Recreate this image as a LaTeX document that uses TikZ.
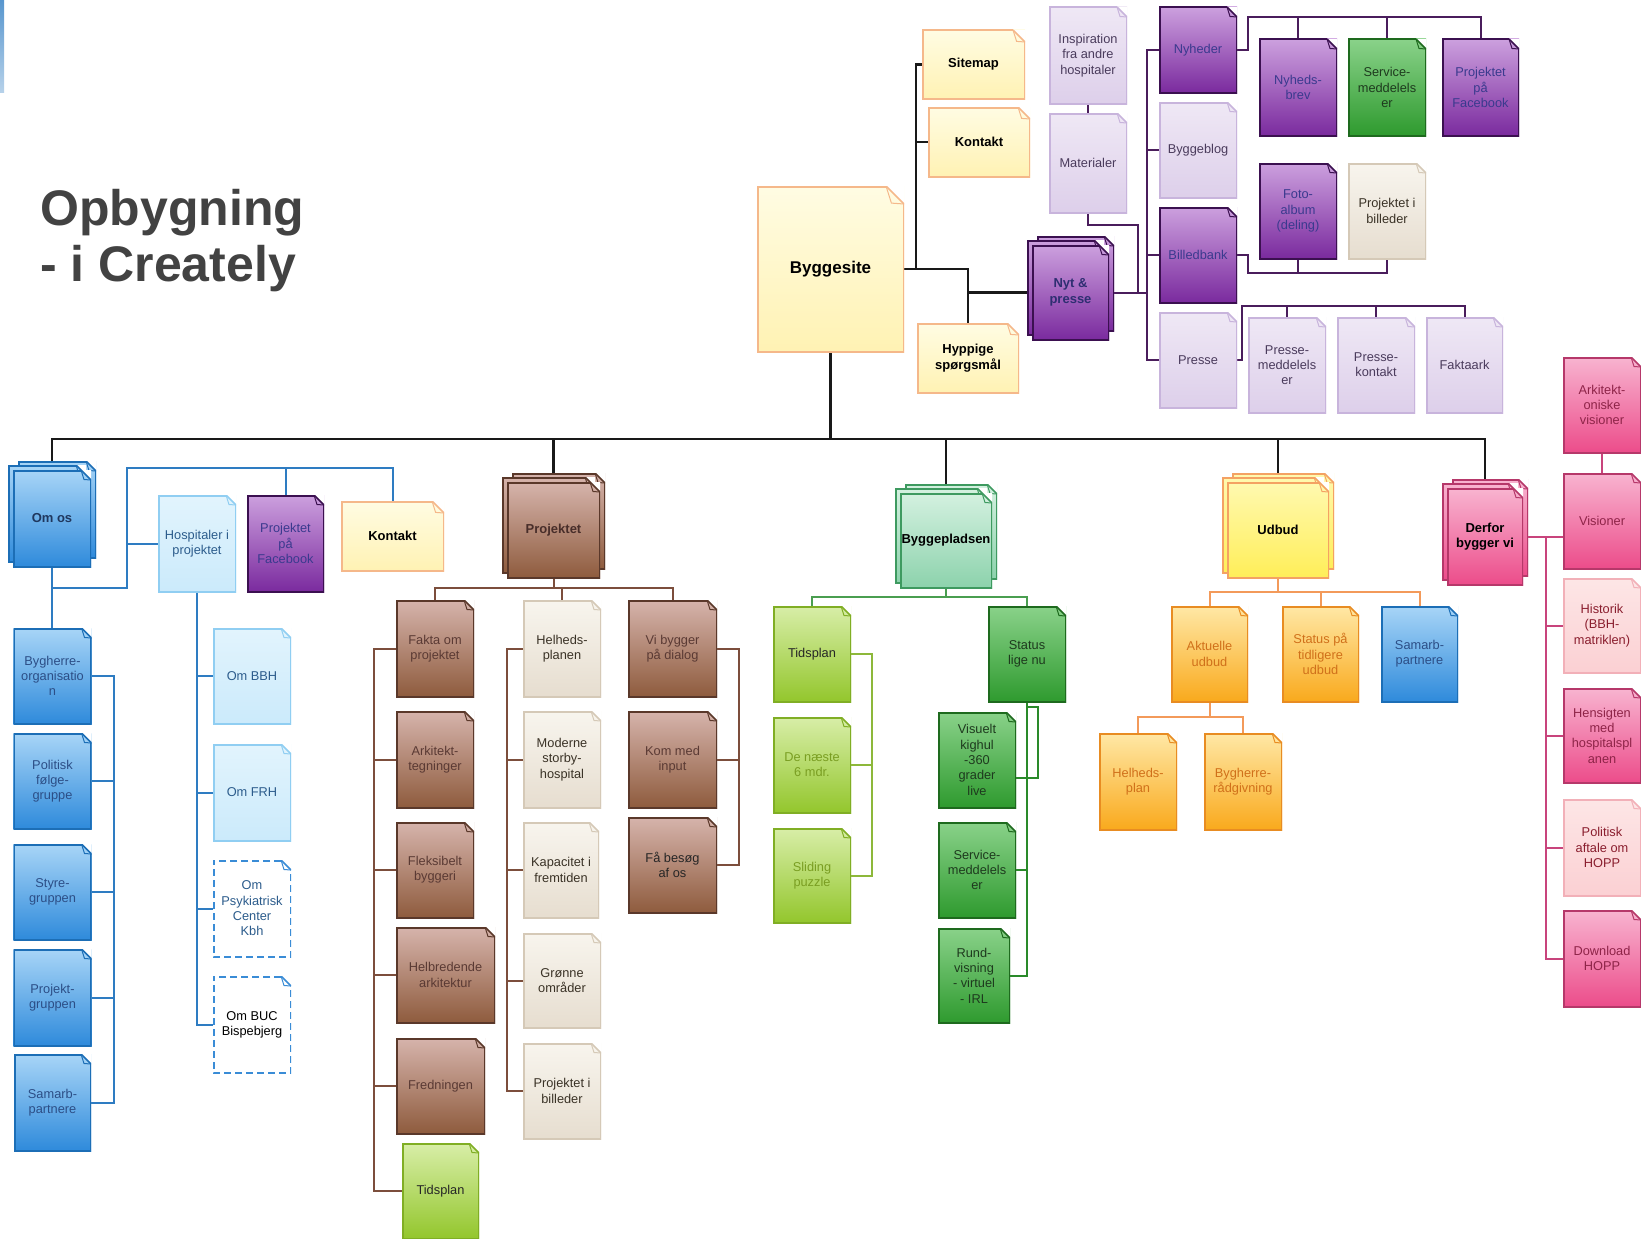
\documentclass[tikz,border=0pt]{standalone}
\usepackage{fontspec}
\setmainfont{Liberation Sans}
\usetikzlibrary{backgrounds}

\definecolor{ylwtop}{HTML}{FFFCE3}
\definecolor{ylwbot}{HTML}{FFF2B3}
\definecolor{ylwedge}{HTML}{F5B88A}
\definecolor{udbtop}{HTML}{FFF9B0}
\definecolor{udbbot}{HTML}{FFEE58}
\definecolor{udbedge}{HTML}{F4A263}
\definecolor{liltop}{HTML}{EFE8F5}
\definecolor{lilbot}{HTML}{DDCFEA}
\definecolor{liledge}{HTML}{C8B4DC}
\definecolor{liltext}{HTML}{4A3B5C}
\definecolor{purtop}{HTML}{CCA0DE}
\definecolor{purbot}{HTML}{7A2A9E}
\definecolor{puredge}{HTML}{3B1050}
\definecolor{purtext}{HTML}{3A3A8E}
\definecolor{grntop}{HTML}{8AD28A}
\definecolor{grnbot}{HTML}{2E9A2E}
\definecolor{grnedge}{HTML}{1E6A1E}
\definecolor{grntext}{HTML}{1E3A1E}
\definecolor{limtop}{HTML}{D8EEA8}
\definecolor{limbot}{HTML}{93C62C}
\definecolor{limedge}{HTML}{80AE24}
\definecolor{limtext}{HTML}{7A9E22}
\definecolor{mnttop}{HTML}{D4F1E0}
\definecolor{mntbot}{HTML}{8CD2AC}
\definecolor{mntedge}{HTML}{3E9A60}
\definecolor{brntop}{HTML}{D6B4AC}
\definecolor{brnbot}{HTML}{8E5B3D}
\definecolor{brnedge}{HTML}{5A382A}
\definecolor{brntext}{HTML}{5A3A34}
\definecolor{begtop}{HTML}{F8F5EE}
\definecolor{begbot}{HTML}{E6DDCF}
\definecolor{begedge}{HTML}{D5C9B7}
\definecolor{begtext}{HTML}{3A3226}
\definecolor{blutop}{HTML}{A8D5F7}
\definecolor{blubot}{HTML}{2E8ADB}
\definecolor{bluedge}{HTML}{1C6EB6}
\definecolor{blutext}{HTML}{2C4E86}
\definecolor{lbltop}{HTML}{E2F4FD}
\definecolor{lblbot}{HTML}{CBEAFB}
\definecolor{lbledge}{HTML}{90CEF2}
\definecolor{lbltext}{HTML}{2C5C8C}
\definecolor{dshedge}{HTML}{3A8CD6}
\definecolor{pnktop}{HTML}{F8B4D0}
\definecolor{pnkbot}{HTML}{EC4C8A}
\definecolor{pnkedge}{HTML}{B6386A}
\definecolor{pnktext}{HTML}{8E2448}
\definecolor{lpktop}{HTML}{FDE6E6}
\definecolor{lpkbot}{HTML}{FBD0D3}
\definecolor{lpkedge}{HTML}{F2B0B8}
\definecolor{lpktext}{HTML}{8A1E2E}
\definecolor{orgtop}{HTML}{FFE8A6}
\definecolor{orgbot}{HTML}{F9A91C}
\definecolor{orgedge}{HTML}{E88C22}
\definecolor{orgtext}{HTML}{D0701A}
\definecolor{linepur}{HTML}{4A1D5C}
\definecolor{lineblu}{HTML}{2E7CC2}
\definecolor{linebrn}{HTML}{7C4E3C}
\definecolor{linegrn}{HTML}{4A9E50}
\definecolor{linelim}{HTML}{8DB83A}
\definecolor{linedgr}{HTML}{2A8A2A}
\definecolor{lineorg}{HTML}{F39A5A}
\definecolor{linepnk}{HTML}{C8447C}
\definecolor{titlegray}{HTML}{424242}

\begin{document}
\begin{tikzpicture}[
    x=1pt, y=-1pt,
    font=\fontsize{12.8}{15.3}\selectfont
]
\tikzset{
    dogear/.store in=\dogear, dogear=10pt,
    edgecol/.store in=\edgecol, edgecol=black,
    docedge/.style={},
    doc/.style = {rectangle, inner sep=1pt, align=center,
        minimum width=78pt, minimum height=96pt,
        path picture={
            \fill[white] ([xshift=-\dogear]path picture bounding box.north east)
                -- (path picture bounding box.north east)
                -- ([yshift=-\dogear]path picture bounding box.north east) -- cycle;
            \draw[draw=\edgecol, line width=3pt, docedge]
                ([xshift=-\dogear]path picture bounding box.north east)
                -- (path picture bounding box.north west)
                -- (path picture bounding box.south west)
                -- (path picture bounding box.south east)
                -- ([yshift=-\dogear]path picture bounding box.north east);
            \draw[draw=\edgecol, line width=1.5pt]
                ([xshift=-\dogear]path picture bounding box.north east)
                -- ([yshift=-\dogear]path picture bounding box.north east);
            \draw[draw=\edgecol, line width=1pt]
                ([xshift=-\dogear]path picture bounding box.north east)
                -- ([xshift=-0.7*\dogear, yshift=-0.95*\dogear]path picture bounding box.north east)
                -- ([yshift=-\dogear]path picture bounding box.north east);
        }},
    boldtext/.style = {font=\fontsize{13}{15.5}\selectfont\bfseries},
    yellowdoc/.style = {doc, top color=ylwtop, bottom color=ylwbot, edgecol=ylwedge, dogear=12pt, text=black, boldtext},
    udbuddoc/.style = {doc, top color=udbtop, bottom color=udbbot, edgecol=udbedge, text=black, boldtext},
    lilacdoc/.style = {doc, top color=liltop, bottom color=lilbot, edgecol=liledge, text=liltext},
    purpledoc/.style = {doc, top color=purtop, bottom color=purbot, edgecol=puredge, text=purtext},
    greendoc/.style = {doc, top color=grntop, bottom color=grnbot, edgecol=grnedge, text=grntext},
    limedoc/.style = {doc, top color=limtop, bottom color=limbot, edgecol=limedge, text=limtext},
    mintdoc/.style = {doc, top color=mnttop, bottom color=mntbot, edgecol=mntedge, text=black, boldtext},
    browndoc/.style = {doc, top color=brntop, bottom color=brnbot, edgecol=brnedge, text=brntext},
    beigedoc/.style = {doc, top color=begtop, bottom color=begbot, edgecol=begedge, text=begtext},
    bluedoc/.style = {doc, top color=blutop, bottom color=blubot, edgecol=bluedge, text=blutext},
    lightbluedoc/.style = {doc, top color=lbltop, bottom color=lblbot, edgecol=lbledge, text=lbltext},
    dashdoc/.style = {doc, fill=white, edgecol=dshedge, text=lbltext, docedge/.style={dash pattern=on 7pt off 4pt}},
    pinkdoc/.style = {doc, top color=pnktop, bottom color=pnkbot, edgecol=pnkedge, text=pnktext},
    lightpinkdoc/.style = {doc, top color=lpktop, bottom color=lpkbot, edgecol=lpkedge, text=lpktext},
    orangedoc/.style = {doc, top color=orgtop, bottom color=orgbot, edgecol=orgedge, text=orgtext},
    titletext/.style = {inner sep=0pt, anchor=base west, text=titlegray, font=\fontsize{50}{56}\selectfont\bfseries},
    mainline/.style = {line width=2.5pt, draw=black!90},
    purpleline/.style = {line width=2pt, draw=linepur},
    blueline/.style = {line width=2pt, draw=lineblu},
    brownline/.style = {line width=2pt, draw=linebrn},
    greenline/.style = {line width=2pt, draw=linegrn},
    limeline/.style = {line width=2pt, draw=linelim},
    darkgreenline/.style = {line width=2pt, draw=linedgr},
    orangeline/.style = {line width=2pt, draw=lineorg},
    pinkline/.style = {line width=2pt, draw=linepnk}
}
\useasboundingbox (0,0) rectangle (1641,1239);
\shade[top color=lineblu!80, bottom color=lineblu!35] (0,0) rectangle (4,92);
\node[titletext] (title1) at (40,225) {Opbygning};
\node[titletext] (title2) at (40,281) {- i Creately};

% top: Byggesite
\node[yellowdoc, minimum width=147pt, minimum height=166pt, dogear=18pt,
    font=\fontsize{17}{20}\selectfont\bfseries] (byggesite) at (830.5,269) {Byggesite};
\node[yellowdoc, minimum width=103pt, minimum height=69pt] (sitemap) at (973.5,64.5) {Sitemap};
\node[yellowdoc, minimum width=102pt, minimum height=70pt] (kontakt) at (979,142) {Kontakt};
\node[yellowdoc, minimum width=102pt, minimum height=70pt] (hyppige) at (968,358) {Hyppige\\spørgsmål};

% Nyt & presse
\node[lilacdoc, minimum height=97pt] (inspiration) at (1088,55.5) {Inspiration\\fra andre\\hospitaler};
\node[lilacdoc, minimum height=100pt] (materialer) at (1088,163) {Materialer};
\node[purpledoc, minimum width=77pt, minimum height=95pt] (nytpresse-b2) at (1075.5,283.5) {};
\node[purpledoc, minimum width=77pt, minimum height=95pt] (nytpresse-b1) at (1065.5,287.5) {};
\node[purpledoc, minimum width=77pt, minimum height=95pt, boldtext, text=purtext!80!black] (nytpresse) at (1070.5,292.5) {Nyt \&\\presse};
\node[purpledoc, minimum height=86pt] (nyheder) at (1198,50) {Nyheder};
\node[lilacdoc] (byggeblog) at (1198,150) {Byggeblog};
\node[purpledoc] (billedbank) at (1198,255) {Billedbank};
\node[lilacdoc] (presse) at (1198,360) {Presse};
\node[purpledoc, minimum height=97pt] (nyhedsbrev) at (1298,87.5) {Nyheds-\\brev};
\node[greendoc, minimum height=97pt] (servicenyt) at (1387,87.5) {Service-\\meddelels\\er};
\node[purpledoc, minimum width=77pt, minimum height=97pt] (facebook) at (1480.5,87.5) {Projektet\\på\\Facebook};
\node[purpledoc] (fotoalbum) at (1298,211) {Foto-\\album\\(deling)};
\node[beigedoc] (billeder) at (1387,211) {Projektet i\\billeder};
\node[lilacdoc] (pressemeddel) at (1287,365) {Presse-\\meddelels\\er};
\node[lilacdoc] (pressekontakt) at (1376,365) {Presse-\\kontakt};
\node[lilacdoc, minimum width=77pt] (faktaark) at (1464.5,365) {Faktaark};

% Om os
\node[bluedoc, minimum height=97pt] (omos-b2) at (57,509.5) {};
\node[bluedoc, minimum height=97pt] (omos-b1) at (47,513.5) {};
\node[bluedoc, minimum height=97pt, boldtext, text=blutext!70!black] (omos) at (52,518.5) {Om os};
\node[lightbluedoc, minimum height=97pt] (hospitaler) at (197,543.5) {Hospitaler i\\projektet};
\node[purpledoc, minimum width=77pt, minimum height=97pt] (facebookom) at (285.5,543.5) {Projektet\\på\\Facebook};
\node[yellowdoc, minimum width=103pt, minimum height=70pt] (kontaktom) at (392.5,536) {Kontakt};
\node[bluedoc] (bygherre) at (52.5,676) {Bygherre-\\organisatio\\n};
\node[bluedoc] (politisk) at (52.5,781) {Politisk\\følge-\\gruppe};
\node[bluedoc] (styre) at (52.5,892) {Styre-\\gruppen};
\node[bluedoc, minimum height=97pt] (projektgr) at (52.5,997.5) {Projekt-\\gruppen};
\node[bluedoc, minimum width=77pt, minimum height=97pt] (samarb) at (52.5,1102.5) {Samarb-\\partnere};
\node[lightbluedoc] (ombbh) at (252,676) {Om BBH};
\node[lightbluedoc, minimum height=97pt] (omfrh) at (252,792.5) {Om FRH};
\node[dashdoc, minimum height=97pt] (ompsyk) at (252,908.5) {Om\\Psykiatrisk\\Center\\Kbh};
\node[dashdoc, minimum height=97pt, text=black] (ombuc) at (252,1024.5) {Om BUC\\Bispebjerg};

% Projektet
\node[browndoc, minimum width=93pt] (projektet-b2) at (558.5,521) {};
\node[browndoc, minimum width=93pt] (projektet-b1) at (548.5,525) {};
\node[browndoc, minimum width=93pt, boldtext, text=brntext!80!black] (projektet) at (553.5,530) {Projektet};
\node[browndoc, minimum height=97pt] (fakta) at (435,648.5) {Fakta om\\projektet};
\node[browndoc, minimum height=97pt] (arkitekt) at (435,759.5) {Arkitekt-\\tegninger};
\node[browndoc] (fleksibel) at (435,870) {Fleksibelt\\byggeri};
\node[browndoc, minimum width=99pt] (helbred) at (445.5,975) {Helbredende\\arkitektur};
\node[browndoc, minimum width=89pt] (fredning) at (440.5,1086) {Fredningen};
\node[limedoc, minimum width=77pt, text=black!85] (tidsplanpj) at (440.5,1191) {Tidsplan};
\node[beigedoc, minimum height=97pt] (helheds) at (562,648.5) {Helheds-\\planen};
\node[beigedoc, minimum height=97pt] (moderne) at (562,759.5) {Moderne\\storby-\\hospital};
\node[beigedoc, minimum width=76pt] (kapacitet) at (561,870) {Kapacitet i\\fremtiden};
\node[beigedoc, minimum height=95pt] (gronne) at (562,980.5) {Grønne\\områder};
\node[beigedoc] (billedpj) at (562,1091) {Projektet i\\billeder};
\node[browndoc, minimum width=89pt, minimum height=97pt] (vibygger) at (672.5,648.5) {Vi bygger\\på dialog};
\node[browndoc, minimum width=89pt, minimum height=97pt] (kommed) at (672.5,759.5) {Kom med\\input};
\node[browndoc, minimum width=89pt, text=black!85] (besog) at (672.5,865) {Få besøg\\af os};

% Byggepladsen
\node[mintdoc, minimum width=92pt, minimum height=95pt] (byggeplads-b2) at (951,531.5) {};
\node[mintdoc, minimum width=92pt, minimum height=95pt] (byggeplads-b1) at (941,535.5) {};
\node[mintdoc, minimum width=92pt, minimum height=95pt] (byggeplads) at (946,540.5) {Byggepladsen};
\node[limedoc, text=black!85] (tidsplan) at (812,654) {Tidsplan};
\node[limedoc] (naeste) at (812,765) {De næste\\6 mdr.};
\node[limedoc, minimum height=95pt] (sliding) at (812,875.5) {Sliding\\puzzle};
\node[greendoc] (status) at (1027,654) {Status\\lige nu};
\node[greendoc] (visuelt) at (977,760) {Visuelt\\kighul\\-360\\grader\\live};
\node[greendoc] (service) at (977,870) {Service-\\meddelels\\er};
\node[greendoc, minimum width=72pt, minimum height=95pt] (rundvisning) at (974,975.5) {Rund-\\visning\\- virtuel\\- IRL};

% Udbud
\node[udbuddoc, minimum width=102pt] (udbud-b2) at (1283,521) {};
\node[udbuddoc, minimum width=102pt] (udbud-b1) at (1273,525) {};
\node[udbuddoc, minimum width=102pt] (udbud) at (1278,530) {Udbud};
\node[orangedoc, minimum width=77pt] (aktuelle) at (1209.5,654) {Aktuelle\\udbud};
\node[orangedoc, minimum width=77pt] (statusudb) at (1320.5,654) {Status på\\tidligere\\udbud};
\node[bluedoc, minimum width=77pt] (samarbudb) at (1419.5,654) {Samarb-\\partnere};
\node[orangedoc, minimum height=97pt] (helhedsplan) at (1138,781.5) {Helheds-\\plan};
\node[orangedoc, minimum height=97pt] (bygherreraad) at (1243,781.5) {Bygherre-\\rådgivning};

% Derfor bygger vi
\node[pinkdoc, minimum width=76pt, minimum height=97pt] (derfor-b2) at (1490,527.5) {};
\node[pinkdoc, minimum width=76pt, minimum height=97pt] (derfor-b1) at (1480,531.5) {};
\node[pinkdoc, minimum width=76pt, minimum height=97pt, boldtext, text=black] (derfor) at (1485,536.5) {Derfor\\bygger vi};
\node[pinkdoc] (arkvisioner) at (1602,405) {Arkitekt-\\oniske\\visioner};
\node[pinkdoc] (visioner) at (1602,521) {Visioner};
\node[lightpinkdoc, minimum height=95pt] (historik) at (1602,625.5) {Historik\\(BBH-\\matriklen)};
\node[pinkdoc, minimum height=95pt] (hensigten) at (1602,735.5) {Hensigten\\med\\hospitalspl\\anen};
\node[lightpinkdoc, minimum height=97pt] (politiskaft) at (1602,847.5) {Politisk\\aftale om\\HOPP};
\node[pinkdoc, minimum height=97pt] (download) at (1602,958.5) {Download\\HOPP};

\begin{pgfonlayer}{background}
% main tree
\coordinate (hub) at (830.5,439);
\draw[mainline] (byggesite.south) -- (hub);
\draw[mainline] (omos.north) |- (hub) -| (derfor.north);
\draw[mainline] (projektet.north) -- (projektet.north |- hub);
\draw[mainline] (byggeplads.north) -- (byggeplads.north |- hub);
\draw[mainline] (udbud.north) -- (udbud.north |- hub);
\coordinate (sitebus) at (916,269);
\draw[mainline] (byggesite.east) -- (sitebus) |- (sitemap.west);
\draw[mainline] (sitebus) |- (kontakt.west);
\draw[mainline] (sitebus) -| (hyppige.north);
\draw[mainline] (hyppige.north |- nytpresse.west) -- (nytpresse.west);

% Nyt & presse
\coordinate (newsbus) at (1147,292.5);
\draw[purpleline] (nytpresse.east) -- (newsbus) |- (nyheder.west);
\draw[purpleline] (newsbus) |- (presse.west);
\draw[purpleline] (byggeblog.west) -- (byggeblog.west -| newsbus);
\draw[purpleline] (billedbank.west) -- (billedbank.west -| newsbus);
\draw[purpleline] (inspiration) -- (materialer);
\coordinate (matbend) at (1138,225);
\draw[purpleline] (materialer.south) |- (matbend) -- (matbend |- newsbus);
\coordinate (nyhtop) at (1248,17);
\draw[purpleline] (nyheder.east) -| (nyhtop) -| (facebook.north);
\draw[purpleline] (nyhedsbrev.north) -- (nyhedsbrev.north |- nyhtop);
\draw[purpleline] (servicenyt.north) -- (servicenyt.north |- nyhtop);
\coordinate (bbbot) at (1248,273);
\draw[purpleline] (billedbank.east) -| (bbbot) -| (billeder.south);
\draw[purpleline] (fotoalbum.south) -- (fotoalbum.south |- bbbot);
\coordinate (pretop) at (1242,306);
\draw[purpleline] (presse.east) -| (pretop) -| (faktaark.north);
\draw[purpleline] (pressemeddel.north) -- (pressemeddel.north |- pretop);
\draw[purpleline] (pressekontakt.north) -- (pressekontakt.north |- pretop);

% Om os
\coordinate (omosA) at (52,588);
\coordinate (omosB) at (127,468);
\draw[blueline] (omos.south) -- (omos.south |- bygherre.north);
\draw[blueline] (omosA) -| (omosB) -| (kontaktom.north);
\draw[blueline] (facebookom.north) -- (facebookom.north |- omosB);
\draw[blueline] (hospitaler.west) -- (hospitaler.west -| omosB);
\coordinate (omosbus) at (114,676);
\draw[blueline] (bygherre.east) -- (omosbus) |- (samarb.east);
\foreach \n in {politisk, styre, projektgr}
    \draw[blueline] (\n.east) -- (\n.east -| omosbus);
\draw[blueline] (hospitaler.south) |- (ombuc.west);
\foreach \n in {ombbh, omfrh, ompsyk}
    \draw[blueline] (\n.west) -- (\n.west -| hospitaler.south);

% Projektet
\coordinate (pjbus) at (553.5,588);
\draw[brownline] (projektet.south) -- (pjbus);
\draw[brownline] (fakta.north) |- (pjbus) -| (vibygger.north);
\draw[brownline] (helheds.north) -- (helheds.north |- pjbus);
\draw[brownline] (fakta.west) -- ++(-22,0) |- (tidsplanpj.west);
\foreach \n in {arkitekt, fleksibel, helbred, fredning}
    \draw[brownline] (\n.west) -- ++(-22,0);
\draw[brownline] (helheds.west) -- ++(-16,0) |- (billedpj.west);
\foreach \n in {moderne, gronne}
    \draw[brownline] (\n.west) -- ++(-16,0);
\draw[brownline] (kapacitet.west) -- ++(-16,0);
\draw[brownline] (vibygger.east) -- ++(22,0) |- (besog.east);
\draw[brownline] (kommed.east) -- ++(22,0);

% Byggepladsen
\coordinate (bpbus) at (946,597);
\draw[greenline] (byggeplads.south) -- (bpbus);
\draw[greenline] (tidsplan.north) |- (bpbus) -| (status.north);
\draw[limeline] (tidsplan.east) -- ++(21,0) |- (sliding.east);
\draw[limeline] (naeste.east) -- ++(21,0);
\draw[darkgreenline] (status.south) |- (rundvisning.east);
\draw[darkgreenline] (service.east) -- (service.east -| status.south);
\coordinate (kighul) at (1038,707);
\coordinate (kighulend) at ([yshift=-18pt]visuelt.east);
\draw[darkgreenline] (kighul -| status.south) -| (kighulend -| kighul) -- (kighulend);

% Udbud
\coordinate (udbus) at (1278,592);
\draw[orangeline] (udbud.south) -- (udbus);
\draw[orangeline] (aktuelle.north) |- (udbus) -| (samarbudb.north);
\draw[orangeline] (statusudb.north) -- (statusudb.north |- udbus);
\coordinate (aktbus) at (1209.5,717);
\draw[orangeline] (aktuelle.south) -- (aktbus);
\draw[orangeline] (helhedsplan.north) |- (aktbus) -| (bygherreraad.north);

% Derfor bygger vi
\coordinate (derbus) at (1546,536.5);
\draw[pinkline] (derfor.east) -- (derfor.east -| visioner.west);
\draw[pinkline] (derbus) |- (download.west);
\foreach \n in {historik, hensigten, politiskaft}
    \draw[pinkline] (\n.west) -- (\n.west -| derbus);
\draw[pinkline] (arkvisioner) -- (visioner);
\end{pgfonlayer}
\end{tikzpicture}
\end{document}
